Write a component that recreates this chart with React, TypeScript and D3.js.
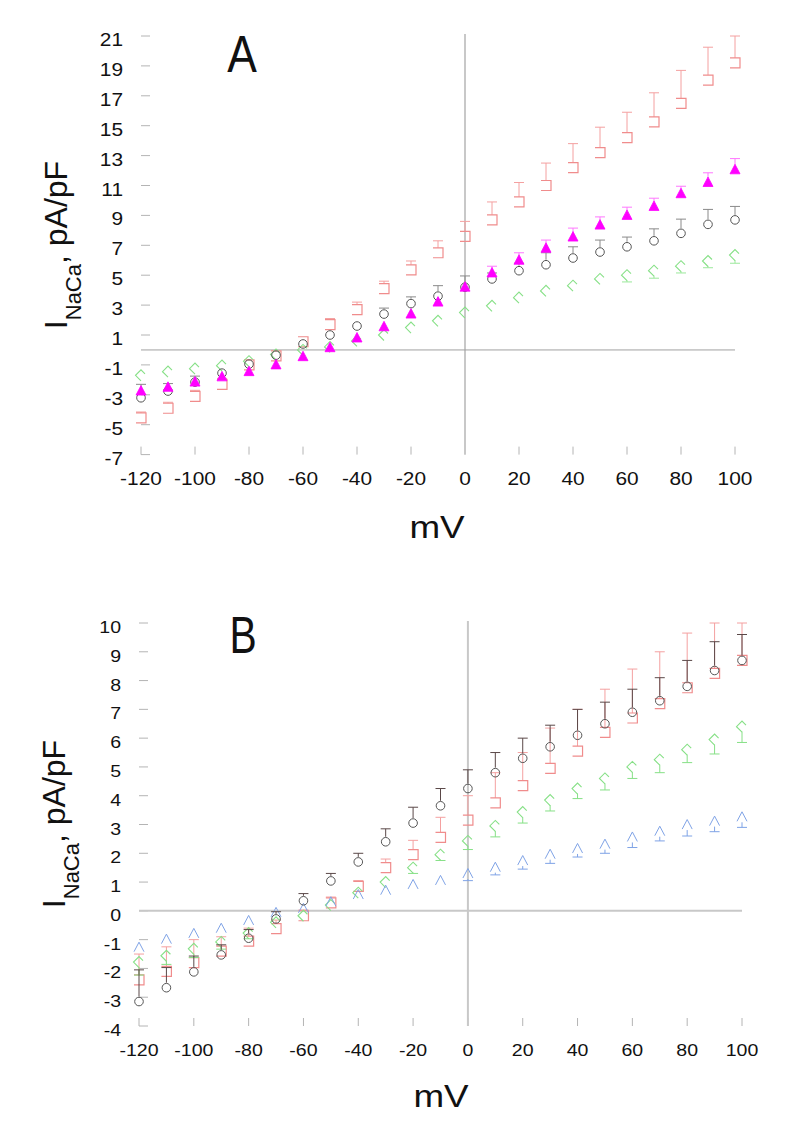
import React from 'react';
import * as d3 from 'd3';

const voltages = [-120, -110, -100, -90, -80, -70, -60, -50, -40, -30, -20, -10, 0, 10, 20, 30, 40, 50, 60, 70, 80, 90, 100];
const xTicks = [-120, -100, -80, -60, -40, -20, 0, 20, 40, 60, 80, 100];
const yTicksA = [-7, -5, -3, -1, 1, 3, 5, 7, 9, 11, 13, 15, 17, 19, 21];
const yTicksB = [-4, -3, -2, -1, 0, 1, 2, 3, 4, 5, 6, 7, 8, 9, 10];

// Panel A
const pinkA = [-4.55, -3.9, -3.1, -2.3, -1.0, -0.4, 0.55, 1.7, 2.7, 4.1, 5.35, 6.5, 7.6, 8.7, 9.9, 11.0, 12.2, 13.2, 14.2, 15.25, 16.5, 18.05, 19.2];
const pinkAse = [0.4, 0.4, 0.4, 0.4, 0.3, 0.3, 0.3, 0.4, 0.5, 0.5, 0.6, 0.8, 1.0, 1.2, 1.3, 1.5, 1.6, 1.7, 1.7, 1.95, 2.2, 2.2, 1.8];
const blackA = [-3.2, -2.75, -2.15, -1.55, -0.95, -0.35, 0.4, 1.0, 1.6, 2.4, 3.1, 3.6, 4.2, 4.75, 5.3, 5.7, 6.15, 6.55, 6.9, 7.3, 7.8, 8.4, 8.7];
const blackAse = [0.9, 0.5, 0.4, 0.3, 0.2, 0.2, 0.2, 0.3, 0.3, 0.4, 0.45, 0.7, 0.75, 0.4, 0.5, 0.8, 0.75, 0.8, 0.65, 0.8, 0.95, 1.0, 0.9];
const magentaA = [-2.75, -2.5, -2.15, -1.8, -1.45, -1.0, -0.45, 0.15, 0.8, 1.55, 2.4, 3.2, 4.2, 5.15, 6.0, 6.8, 7.55, 8.35, 9.0, 9.6, 10.45, 11.2, 12.05];
const magentaAse = [0.2, 0.2, 0.2, 0.2, 0.15, 0.15, 0.15, 0.15, 0.2, 0.2, 0.2, 0.2, 0.2, 0.45, 0.5, 0.55, 0.6, 0.55, 0.55, 0.55, 0.5, 0.65, 0.75];
const greenA = [-1.7, -1.45, -1.25, -1.05, -0.75, -0.3, 0.0, 0.2, 0.6, 1.0, 1.5, 1.95, 2.5, 2.95, 3.5, 3.95, 4.3, 4.75, 5.0, 5.3, 5.6, 5.95, 6.35];
const greenAse = [0.2, 0.2, 0.2, 0.2, 0.15, 0.15, 0.15, 0.15, 0.2, 0.2, 0.2, 0.2, 0.2, 0.2, 0.2, 0.25, 0.3, 0.35, 0.45, 0.5, 0.45, 0.45, 0.55];

// Panel B
const pinkB = [-2.4, -2.1, -1.8, -1.4, -1.05, -0.62, -0.17, 0.28, 0.85, 1.5, 1.95, 2.55, 3.15, 3.75, 4.35, 4.95, 5.55, 6.2, 6.7, 7.2, 7.75, 8.25, 8.7];
const pinkBse = [0.9, 0.85, 0.8, 0.5, 0.45, 0.3, 0.2, 0.2, 0.2, 0.3, 0.5, 0.7, 0.85, 1.05, 1.15, 1.4, 1.45, 1.5, 1.7, 1.8, 1.9, 2.0, 1.8];
const blackB = [-3.15, -2.67, -2.12, -1.53, -0.95, -0.28, 0.35, 1.04, 1.7, 2.4, 3.05, 3.65, 4.25, 4.8, 5.3, 5.7, 6.1, 6.5, 6.9, 7.3, 7.8, 8.35, 8.7];
const blackBse = [1.1, 0.7, 0.55, 0.35, 0.3, 0.25, 0.25, 0.26, 0.3, 0.45, 0.55, 0.6, 0.65, 0.7, 0.7, 0.75, 0.9, 0.75, 0.8, 0.8, 0.9, 1.0, 0.9];
const greenB = [-1.78, -1.56, -1.32, -1.08, -0.77, -0.4, -0.17, 0.2, 0.63, 1.0, 1.5, 1.95, 2.43, 2.95, 3.43, 3.85, 4.25, 4.6, 5.0, 5.25, 5.6, 5.95, 6.4];
const greenBse = [0.45, 0.3, 0.3, 0.25, 0.2, 0.15, 0.15, 0.15, 0.15, 0.15, 0.2, 0.2, 0.3, 0.38, 0.38, 0.38, 0.35, 0.4, 0.4, 0.45, 0.45, 0.5, 0.55];
const blueB = [-1.28, -1.0, -0.8, -0.62, -0.35, -0.07, 0.07, 0.3, 0.55, 0.7, 0.9, 1.04, 1.28, 1.5, 1.73, 1.95, 2.15, 2.3, 2.55, 2.75, 2.98, 3.1, 3.25];
const blueBse = [0.1, 0.1, 0.1, 0.1, 0.1, 0.1, 0.1, 0.1, 0.1, 0.1, 0.1, 0.1, 0.23, 0.25, 0.28, 0.3, 0.28, 0.3, 0.35, 0.32, 0.38, 0.35, 0.35];

const FONT = "'Liberation Sans', Arial, Helvetica, sans-serif";

type Shape = 'square' | 'circle' | 'triFilled' | 'triOpen' | 'diamond';
interface Series { values: number[]; se: number[]; shape: Shape; color: string; barColor: string; dir: 1 | -1; }

function Marker({ shape, color, x, y }: { shape: Shape; color: string; x: number; y: number }) {
  const s = 5;
  const t = `translate(${x},${y})`;
  switch (shape) {
    case 'circle':
      return <circle cx={x} cy={y} r={4.3} fill="none" stroke={color} strokeWidth={1} />;
    case 'square':
      return <path transform={t} d={`M${-s},${-s}H${s}V${s}H${-s}`} fill="none" stroke={color} strokeWidth={1.2} />;
    case 'triFilled':
      return <path transform={t} d={`M${-5},${4}L0,${-5.5}L${5},${4}Z`} fill={color} stroke={color} strokeWidth={0.8} />;
    case 'triOpen':
      return <path transform={t} d={`M${-5},${4}L0,${-5.5}L${5},${4}`} fill="none" stroke={color} strokeWidth={1} />;
    case 'diamond':
      return <path transform={t} d={`M${4},${-1.5}L0,${-5.5}L${-5.5},0L0,${5.5}`} fill="none" stroke={color} strokeWidth={1.1} />;
  }
  return null;
}

interface PanelCfg {
  x0: number; x1: number; yTop: number; yBot: number;
  yDomain: [number, number]; yTicks: number[];
  tickFont: number; tickScale: number; yLabelRight: number; xLabelBase: number;
  mvX: number; mvBase: number; letter: string; letterX: number; letterBase: number; letterScale: number;
  yTitleX: number; yTitleY: number; hLineColor: string; hLineWidth: number;
  series: Series[];
}

function Panel({ c }: { c: PanelCfg }) {
  const x = d3.scaleLinear().domain([-120, 100]).range([c.x0, c.x1]);
  const y = d3.scaleLinear().domain(c.yDomain).range([c.yBot, c.yTop]);
  const tickColor = '#b4b4b4';
  return (
    <g>
      {/* y ticks */}
      {c.yTicks.map((t) => (
        <g key={'yt' + t}>
          <line x1={c.x0} x2={c.x0 + 9} y1={y(t)} y2={y(t)} stroke={tickColor} strokeWidth={1} />
          <text transform={`translate(${c.yLabelRight},${y(t) + 10}) scale(${c.tickScale},1)`} textAnchor="end"
            fontFamily={FONT} fontSize={c.tickFont} fill="#111">{t}</text>
        </g>
      ))}
      {/* x ticks */}
      {xTicks.map((t) => (
        <g key={'xt' + t}>
          <line x1={x(t)} x2={x(t)} y1={c.yBot - 8} y2={c.yBot} stroke={tickColor} strokeWidth={1} />
          <text transform={`translate(${x(t)},${c.xLabelBase}) scale(${c.tickScale},1)`} textAnchor="middle"
            fontFamily={FONT} fontSize={c.tickFont} fill="#111">{t}</text>
        </g>
      ))}
      {/* zero lines */}
      <line x1={x(0)} x2={x(0)} y1={c.yTop - 2} y2={c.yBot} stroke="#c8c8c8" strokeWidth={2} />
      <line x1={c.x0} x2={c.x1} y1={y(0)} y2={y(0)} stroke={c.hLineColor} strokeWidth={c.hLineWidth} />
      {/* series */}
      {c.series.map((s, si) => (
        <g key={'s' + si}>
          {voltages.map((v, i) => {
            const m = s.values[i];
            const e = s.se[i];
            const ym = y(m);
            let ye = y(Math.min(c.yDomain[1], m + s.dir * e));
            const start = ym - s.dir * 5;
            const show = Math.abs(ye - ym) > 5.5;
            return (
              <g key={i}>
                {show && (
                  <g stroke={s.barColor} strokeWidth={1}>
                    <line x1={x(v)} x2={x(v)} y1={start} y2={ye} />
                    <line x1={x(v) - 5} x2={x(v) + 5} y1={ye} y2={ye} />
                  </g>
                )}
                <Marker shape={s.shape} color={s.color} x={x(v)} y={ym} />
              </g>
            );
          })}
        </g>
      ))}
      {/* panel letter */}
      <text transform={`translate(${c.letterX},${c.letterBase}) scale(${c.letterScale},1)`} textAnchor="middle"
        fontFamily={FONT} fontSize={51} fill="#111">{c.letter}</text>
      {/* x title */}
      <text transform={`translate(${c.mvX},${c.mvBase}) scale(1.15,1)`} textAnchor="middle"
        fontFamily={FONT} fontSize={32} fill="#111">mV</text>
      {/* y title */}
      <text transform={`translate(${c.yTitleX},${c.yTitleY}) rotate(-90)`} textAnchor="middle"
        fontFamily={FONT} fontSize={32} fill="#111">
        <tspan>I</tspan>
        <tspan fontSize={22} dy={14}>NaCa</tspan>
        <tspan dy={-14}>, pA/pF</tspan>
      </text>
    </g>
  );
}

const pinkCol = '#f08c8c';
const pinkBar = '#f4a0a0';

const panelA: PanelCfg = {
  x0: 141, x1: 735, yTop: 36, yBot: 454.6, yDomain: [-7, 21], yTicks: yTicksA,
  tickFont: 18, tickScale: 1.16, yLabelRight: 123, xLabelBase: 485,
  mvX: 437, mvBase: 538, letter: 'A', letterX: 242, letterBase: 72, letterScale: 0.87,
  yTitleX: 67, yTitleY: 245, hLineColor: '#a0a0a0', hLineWidth: 1,
  series: [
    { values: pinkA, se: pinkAse, shape: 'square', color: pinkCol, barColor: pinkBar, dir: 1 },
    { values: greenA, se: greenAse, shape: 'diamond', color: '#86e086', barColor: '#9be89b', dir: -1 },
    { values: blackA, se: blackAse, shape: 'circle', color: '#555555', barColor: '#8a8a8a', dir: 1 },
    { values: magentaA, se: magentaAse, shape: 'triFilled', color: '#ff00ff', barColor: '#ff77ff', dir: 1 },
  ],
};

const panelB: PanelCfg = {
  x0: 139, x1: 742, yTop: 623, yBot: 1026, yDomain: [-4, 10], yTicks: yTicksB,
  tickFont: 17, tickScale: 1.15, yLabelRight: 121, xLabelBase: 1056,
  mvX: 441, mvBase: 1107, letter: 'B', letterX: 243, letterBase: 653, letterScale: 0.8,
  yTitleX: 65, yTitleY: 824, hLineColor: '#c8c8c8', hLineWidth: 2,
  series: [
    { values: pinkB, se: pinkBse, shape: 'square', color: pinkCol, barColor: pinkBar, dir: 1 },
    { values: greenB, se: greenBse, shape: 'diamond', color: '#86e086', barColor: '#86e086', dir: -1 },
    { values: blueB, se: blueBse, shape: 'triOpen', color: '#7fa3e6', barColor: '#7fa3e6', dir: -1 },
    { values: blackB, se: blackBse, shape: 'circle', color: '#555555', barColor: '#5a4848', dir: 1 },
  ],
};

export default function App() {
  return (
    <svg width={788} height={1134} viewBox="0 0 788 1134"
      style={{ position: 'absolute', left: 0, top: 0, background: '#fff' }}>
      <rect x={0} y={0} width={788} height={1134} fill="#fff" />
      <Panel c={panelA} />
      <Panel c={panelB} />
    </svg>
  );
}
